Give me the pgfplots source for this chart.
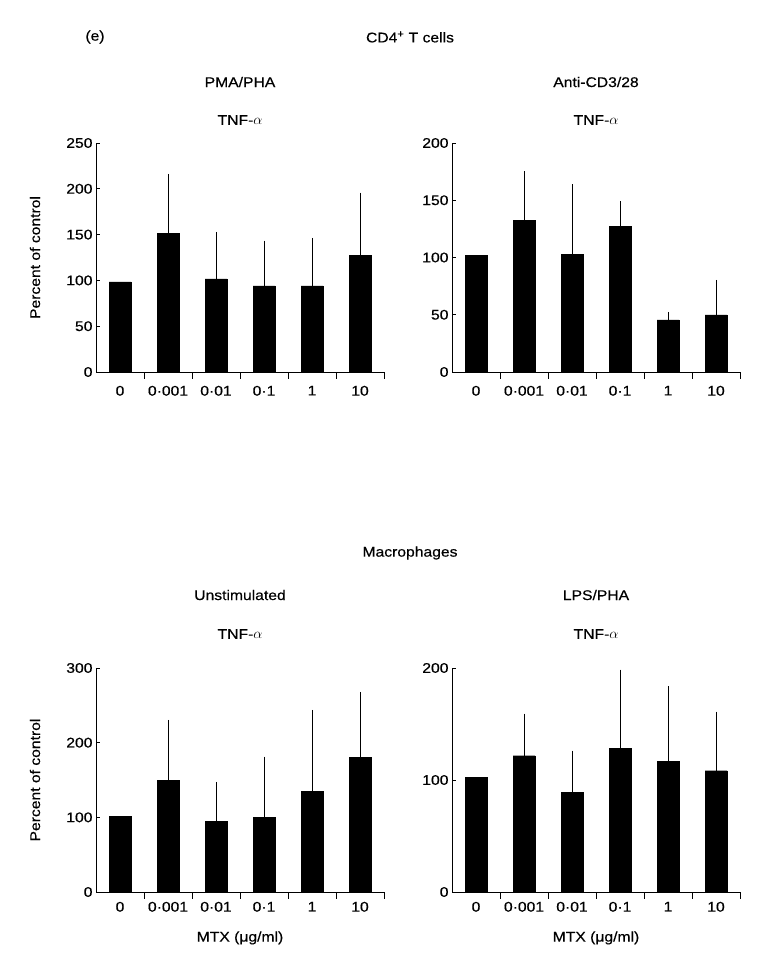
\documentclass[border=0pt]{standalone}
\usepackage{fontspec}
\setmainfont{Liberation Sans}[FakeStretch=1.12, FakeBold=0.4]
\usepackage{pgfplots}
\pgfplotsset{compat=1.18}
\pgfplotstableread{
x y e
0.5 98.3 nan
1.5 151.7 62
2.5 101.6 48.6
3.5 94 46.8
4.5 94 49.7
5.5 127.7 65.3
}\pA
\pgfplotstableread{
x y e
0.5 102 nan
1.5 132.5 40.5
2.5 102.9 59.1
3.5 127.2 19.8
4.5 45.5 4.9
5.5 49.9 28.4
}\pB
\pgfplotstableread{
x y e
0.5 100.9 nan
1.5 149.1 78.1
2.5 94.2 50
3.5 99.6 78.5
4.5 134.4 106.2
5.5 179.9 84.8
}\pC
\pgfplotstableread{
x y e
0.5 102.1 nan
1.5 121.7 35.4
2.5 88.7 35.4
3.5 128 68.4
4.5 116.4 64.9
5.5 108.3 50.6
}\pD
\pgfplotsset{
 mybar/.style={
  scale only axis, width=288pt,
  anchor=south west,
  clip=false,
  font=\fontsize{14}{16}\selectfont,
  xmin=0, xmax=6, ymin=0,
  axis x line*=bottom, axis y line*=left,
  axis line style={line width=1pt},
  every tick/.style={black, line width=1pt},
  xtick={0.5,1.5,2.5,3.5,4.5,5.5},
  xticklabels={0,0·001,0·01,0·1,1,10},
  major x tick style={draw=none},
  minor xtick={1,2,3,4,5,6},
  minor tick length=6.5pt,
  major tick length=4.3pt,
  tick align=inside,
  /pgf/number format/assume math mode=true,
  ylabel={Percent of control},
  ylabel style={at={(axis description cs:-0.2118,0.5)}, anchor=center},
  ybar, bar width=22pt, bar shift=0pt,
  unbounded coords=jump,
 },
 mybarplot/.style={fill=black, draw=black,
  error bars/.cd, y dir=plus, y explicit,
  error bar style={line width=0.8pt, black},
  error mark options={line width=0.8pt, mark size=2.5pt, black}},
}
\begin{document}
\begin{tikzpicture}
\useasboundingbox (0pt,0pt) rectangle (775pt,-968pt);
\tikzset{tl/.style={font=\fontsize{14}{16}\selectfont}}
\node[tl] at (95pt,-37pt) {(e)};
\node[tl] at (410pt,-37pt) {CD4\textsuperscript{+} T cells};
\node[tl] at (410pt,-553pt) {Macrophages};

\begin{axis}[mybar, at={(96pt,-372pt)}, height=229pt, ymax=250,
  ytick={0,50,...,250}, xticklabel style={yshift=-6pt}]
\addplot[mybarplot] table[x=x,y=y,y error=e]{\pA};
\node[tl] at (rel axis cs:0.5,1) [yshift=23pt] {TNF-$\alpha$};
\node[tl] at (rel axis cs:0.5,1) [yshift=61pt] {PMA/PHA};
\end{axis}

\begin{axis}[mybar, at={(452pt,-372pt)}, height=229pt, ymax=200,
  ytick={0,50,...,200}, ylabel={}, xticklabel style={yshift=-6pt}]
\addplot[mybarplot] table[x=x,y=y,y error=e]{\pB};
\node[tl] at (rel axis cs:0.5,1) [yshift=23pt] {TNF-$\alpha$};
\node[tl] at (rel axis cs:0.5,1) [yshift=61pt] {Anti-CD3/28};
\end{axis}

\begin{axis}[mybar, at={(96pt,-892pt)}, height=224pt, ymax=300,
  ytick={0,100,...,300}, xticklabel style={yshift=-2pt},
  xlabel={MTX (μg/ml)},
  xlabel style={at={(axis description cs:0.5,-0.205)}, anchor=center}]
\addplot[mybarplot] table[x=x,y=y,y error=e]{\pC};
\node[tl] at (rel axis cs:0.5,1) [yshift=34pt] {TNF-$\alpha$};
\node[tl] at (rel axis cs:0.5,1) [yshift=73pt] {Unstimulated};
\end{axis}

\begin{axis}[mybar, at={(452pt,-892pt)}, height=224pt, ymax=200,
  ytick={0,100,200}, ylabel={}, xticklabel style={yshift=-2pt},
  xlabel={MTX (μg/ml)},
  xlabel style={at={(axis description cs:0.5,-0.205)}, anchor=center}]
\addplot[mybarplot] table[x=x,y=y,y error=e]{\pD};
\node[tl] at (rel axis cs:0.5,1) [yshift=34pt] {TNF-$\alpha$};
\node[tl] at (rel axis cs:0.5,1) [yshift=73pt] {LPS/PHA};
\end{axis}
\end{tikzpicture}
\end{document}
